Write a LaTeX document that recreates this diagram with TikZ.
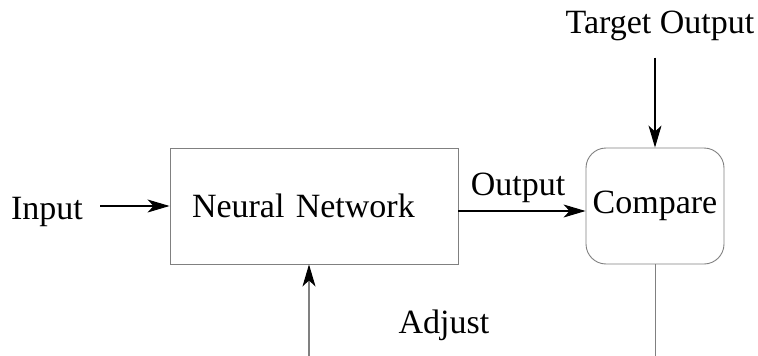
\documentclass[tikz,border=0pt]{standalone}
\usepackage{fontspec}
\setmainfont{Liberation Serif}
\usetikzlibrary{arrows.meta}

\begin{document}
\begin{tikzpicture}[
		x=1pt, y=-1pt,
		every node/.style={font=\fontsize{34}{40}\selectfont, inner sep=0pt},
		box/.style={draw=gray, line width=0.9pt, minimum height=116pt},
		arr/.style={line width=1.1pt, -{Stealth[length=22pt, width=13pt, inset=6pt, color=black]}}
	]
  \useasboundingbox (0,0) rectangle (758,356);
  \node (nn) [box, text width=244pt, inner xsep=22pt, align=left] at (314,206) {Neural Network};
  \node (cmp) [box, rounded corners=20pt, minimum width=138pt] at (655,206) {Compare};
  \node (inp) [anchor=base] at (47,219) {Input};
  \node (out) [anchor=base] at (518,195) {Output};
  \node (tgt) [anchor=base] at (660,33) {Target Output};
  \node (adj) [anchor=base] at (444,333) {Adjust};
  \coordinate (adjlo) at (309,356);
  \coordinate (cmplo) at (655,356);

  \draw[arr, shorten <=17pt] (inp.east |- nn.west) -- (nn.west);
  \draw[arr] ([yshift=-5pt]nn.east) -- ([yshift=-5pt]cmp.west);
  \draw[arr, shorten <=17pt] (tgt.south -| cmp.north) -- (cmp.north);
  \draw[arr, gray] (adjlo) -- (adjlo |- nn.south);
  \draw[gray, line width=0.9pt] (cmp.south) -- (cmplo);
\end{tikzpicture}
\end{document}
